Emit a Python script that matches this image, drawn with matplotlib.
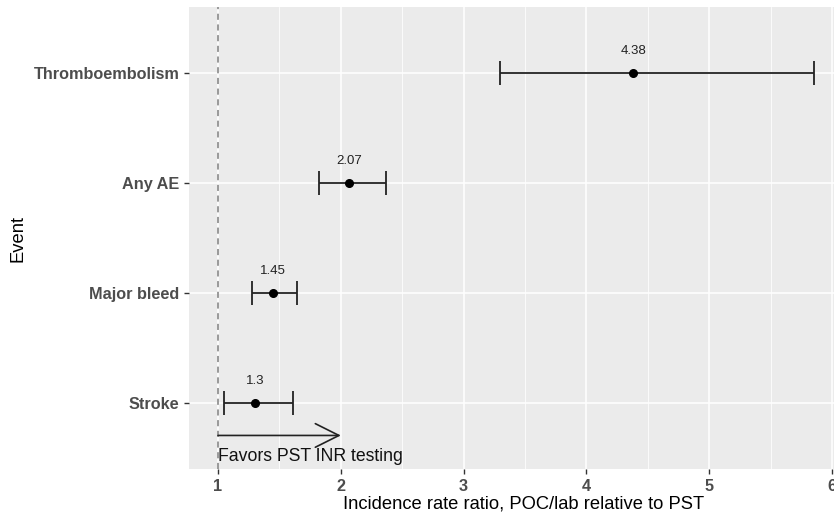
import matplotlib.pyplot as plt
from matplotlib.ticker import MultipleLocator

plt.rcParams['font.family'] = ['Liberation Sans', 'DejaVu Sans']

# Data (bottom to top)
events = ['Stroke', 'Major bleed', 'Any AE', 'Thromboembolism']
irr = [1.3, 1.45, 2.07, 4.38]
lower = [1.05, 1.28, 1.82, 3.30]
upper = [1.61, 1.64, 2.37, 5.85]
xticks = [1, 2, 3, 4, 5, 6]

fig = plt.figure(figsize=(8.34, 5.13), dpi=100)
ax = fig.add_axes([189 / 834, 44 / 513, 670 / 834, 462 / 513])
ax.set_facecolor('#EBEBEB')

ypos = list(range(1, len(events) + 1))

# grid, ggplot style
ax.set_xlim(1 + (189 - 218) / 122.8, 1 + (859 - 218) / 122.8)
ax.set_ylim(0.4, 4.6)
ax.set_xticks(xticks)
ax.set_xticklabels([str(t) for t in xticks], fontweight='bold')
ax.xaxis.set_minor_locator(MultipleLocator(0.5))
ax.set_yticks(ypos)
ax.set_yticklabels(events, fontweight='bold')
ax.grid(which='major', color='white', linewidth=1.1)
ax.grid(which='minor', axis='x', color='white', linewidth=0.55)
ax.set_axisbelow(True)
for s in ax.spines.values():
    s.set_visible(False)
ax.tick_params(which='major', length=3.5, color='#333333', labelcolor='#4D4D4D',
               labelsize=11.7, width=1)
ax.tick_params(which='minor', length=0)

# reference line
ax.axvline(1, color='#7F7F7F', linestyle=(0, (4, 3)), linewidth=1.1, zorder=2)

# error bars and points
ax.errorbar(irr, ypos, xerr=[[i - l for i, l in zip(irr, lower)],
                            [u - i for i, u in zip(irr, upper)]],
            fmt='o', color='black', ecolor='#222222', markersize=5.5,
            elinewidth=1.3, capsize=8.5, capthick=1.3, zorder=3)
for x, y in zip(irr, ypos):
    ax.text(x, y + 0.2, f'{x:g}', ha='center', va='center', fontsize=9.5,
            color='#222222')

# arrow
ax.annotate('', xy=(2, 0.705), xytext=(1, 0.705),
            arrowprops=dict(arrowstyle='->,head_length=1.7,head_width=0.85',
                            color='#222222', linewidth=1.2, shrinkA=0, shrinkB=0))
ax.text(1, 0.51, 'Favors PST INR testing', ha='left', va='center', fontsize=12.7,
        color='#111111')

ax.set_xlabel('Incidence rate ratio, POC/lab relative to PST', fontsize=13.2, labelpad=1)
ax.set_ylabel('Event', fontsize=13.2, labelpad=5)

fig.savefig('out.png', dpi=100)
